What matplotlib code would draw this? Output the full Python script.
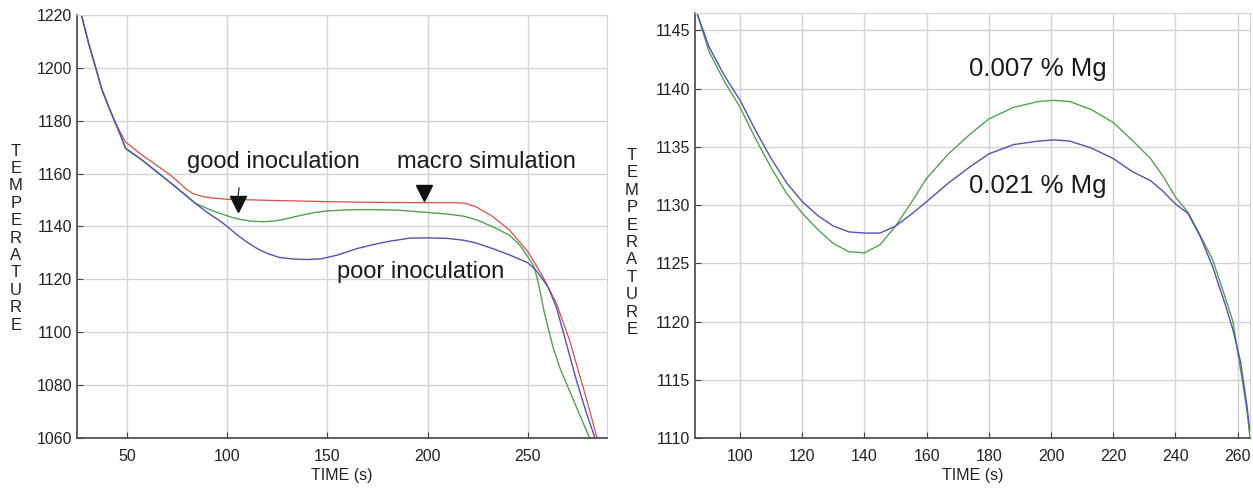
import matplotlib.pyplot as plt

plt.rcParams['font.family'] = ['Liberation Sans', 'DejaVu Sans']

# left panel: cooling curves, inoculation vs macro simulation
t_red = [25, 27.2, 30.8, 34.2, 37.5, 40.8, 44.2, 46.7, 49.2, 57.5, 65.8, 72, 76, 79.5, 83, 87, 92, 100, 126,
         150, 175, 200, 214, 219, 224, 232, 240.8, 250, 257.5, 264.2, 270.8, 277.5, 281, 284.5]
y_red = [1220, 1220, 1209.3, 1200.4, 1191.6, 1185.3, 1179.3, 1175.5, 1172, 1167, 1162.6, 1159.2, 1156.6,
         1154.1, 1152.4, 1151.5, 1150.8, 1150.3, 1149.8, 1149.4, 1149.1, 1149, 1149, 1148.7, 1147.5, 1144,
         1138.7, 1130.5, 1121, 1111, 1097, 1079.4, 1070, 1060]

t_green = [25, 27.2, 30.8, 34.2, 37.5, 40.8, 44.2, 46.7, 49.2, 57.5, 65.8, 74.2, 84, 90, 95, 99, 103, 107,
           112, 118, 124, 130, 136, 143, 150, 160, 170, 185, 200, 210, 218, 225, 235, 241, 246, 250, 253,
           255, 258.3, 262.5, 266, 269.2, 274.2, 280.8]
y_green = [1220, 1220, 1209.3, 1200.4, 1191.6, 1185.3, 1179, 1174.6, 1169.6, 1165.1, 1160.1, 1155, 1148.8,
           1146.8, 1145.3, 1144.3, 1143.3, 1142.6, 1142, 1141.8, 1142.1, 1143, 1144.1, 1145.2, 1145.9,
           1146.3, 1146.4, 1146.2, 1145.3, 1144.7, 1143.9, 1142.4, 1139, 1136.6, 1133, 1128.5, 1125,
           1119.5, 1107.2, 1094.5, 1086.5, 1080.7, 1071.8, 1060]

t_blue = [25, 27.2, 30.8, 34.2, 37.5, 40.8, 44.2, 46.7, 49.2, 57.5, 65.8, 74.2, 84, 90, 95, 99, 105, 110,
          115, 120, 126, 133, 140, 147, 155, 165, 172, 180, 191, 200, 210, 218, 224, 233, 241, 250, 254,
          257, 260, 264.2, 268.3, 274.2, 279, 283.5]
y_blue = [1220, 1220, 1209.3, 1200.4, 1191.6, 1185.3, 1179, 1174.6, 1169.6, 1165.1, 1160.1, 1155, 1148.8,
          1145.3, 1142.8, 1140.6, 1136.8, 1134, 1131.6, 1129.8, 1128.3, 1127.7, 1127.5, 1127.8, 1129.2,
          1131.7, 1133, 1134.3, 1135.6, 1135.7, 1135.5, 1134.8, 1133.8, 1131.5, 1129.2, 1126.3, 1123.5,
          1120.5, 1117.2, 1109.6, 1098.3, 1081.9, 1070, 1060]

# right panel: Mg content
t_mg = [86, 90, 95, 100, 105, 110, 115, 120, 125, 130, 135, 140, 145, 150, 155, 160, 167, 174, 180, 188,
        196, 201, 206, 213, 220, 226, 232, 236, 240, 244, 248, 252, 256, 258.5, 261, 263, 264]
y_mg007 = [1146.6, 1143.2, 1140.6, 1138.4, 1135.7, 1133.2, 1131, 1129.3, 1127.9, 1126.7, 1126, 1125.9,
           1126.6, 1128.2, 1130.2, 1132.3, 1134.4, 1136.1, 1137.4, 1138.4, 1138.9, 1139, 1138.9, 1138.2,
           1137.1, 1135.6, 1134, 1132.5, 1130.7, 1129.4, 1127.4, 1125.3, 1122.1, 1120, 1115.8, 1112.4, 1110]
y_mg021 = [1146.6, 1143.6, 1141.1, 1139, 1136.4, 1134, 1131.9, 1130.3, 1129.1, 1128.2, 1127.7, 1127.6,
           1127.6, 1128.2, 1129.2, 1130.3, 1131.9, 1133.3, 1134.4, 1135.2, 1135.5, 1135.6, 1135.5, 1134.9,
           1134.0, 1132.9, 1132.1, 1131.2, 1130.1, 1129.3, 1127.3, 1124.7, 1121.5, 1119.3, 1116.5, 1112.8,
           1110.5]

left_xticks = [50, 100, 150, 200, 250]
left_yticks = [1060, 1080, 1100, 1120, 1140, 1160, 1180, 1200, 1220]
right_xticks = [100, 120, 140, 160, 180, 200, 220, 240, 260]
right_yticks = [1110, 1115, 1120, 1125, 1130, 1135, 1140, 1145]

left_labels = ['good inoculation', 'macro simulation', 'poor inoculation']
left_label_pos = [(80, 1164.5), (184.8, 1164.5), (155, 1122.9)]
arrow_heads = [(105.2, 1148.6), (198, 1152.5)]
right_labels = ['0.007 % Mg', '0.021 % Mg']
right_label_pos = [(173.7, 1141.7), (173.7, 1131.6)]

RED = '#d2504a'
GREEN = '#54a054'
BLUE = '#5252b0'
GRID = '#d4d4d4'

fig = plt.figure(figsize=(12.53, 4.88), dpi=100)
ax1 = fig.add_axes([77 / 1253, 1 - 438 / 488, 530 / 1253, 423 / 488])
ax2 = fig.add_axes([695 / 1253, 1 - 438 / 488, 555 / 1253, 425 / 488])


def style(ax):
    ax.grid(True, color=GRID, linewidth=1)
    ax.set_axisbelow(True)
    for s in ['top', 'right']:
        ax.spines[s].set_color(GRID)
    for s in ['left', 'bottom']:
        ax.spines[s].set_color('#444444')
        ax.spines[s].set_linewidth(1.2)
    ax.tick_params(direction='in', length=4, labelsize=11.5, colors='#444444', labelcolor='#222222')
    ax.tick_params(axis='x', pad=8)
    ax.set_xlabel('TIME (s)', fontsize=11.5, color='#222222', labelpad=3)


ax1.plot(t_red, y_red, color=RED, lw=0.9)
ax1.plot(t_green, y_green, color=GREEN, lw=1.0)
ax1.plot(t_blue, y_blue, color=BLUE, lw=1.0)
ax1.set_xlim(25, 289.5)
ax1.set_ylim(1060, 1220)
ax1.set_xticks(left_xticks)
ax1.set_yticks(left_yticks)
style(ax1)

for lab, (x, y) in zip(left_labels, left_label_pos):
    ax1.text(x, y, lab, fontsize=17, ha='left', va='center', color='#1a1a1a')
for x, y in arrow_heads:
    ax1.plot(x, y, marker='v', markersize=11, color='#111111', linestyle='none')
# thin stem above the "good inoculation" arrow
ax1.plot([arrow_heads[0][0] + 0.7, arrow_heads[0][0]], [1154.6, 1150.5], color='#111111', lw=0.8)

ax2.plot(t_mg, y_mg007, color=GREEN, lw=1.0)
ax2.plot(t_mg, y_mg021, color=BLUE, lw=1.0)
ax2.set_xlim(85.5, 264)
ax2.set_ylim(1110, 1146.5)
ax2.set_xticks(right_xticks)
ax2.set_yticks(right_yticks)
style(ax2)

for lab, (x, y) in zip(right_labels, right_label_pos):
    ax2.text(x, y, lab, fontsize=18.5, ha='left', va='center', color='#1a1a1a')

# stacked vertical axis titles
fig.text(16 / 1253, 0.512, '\n'.join('TEMPERATURE'), fontsize=12, ha='center', va='center',
         linespacing=1.2, color='#222222')
fig.text(632 / 1253, 0.503, '\n'.join('TEMPERATURE'), fontsize=12, ha='center', va='center',
         linespacing=1.2, color='#222222')

fig.savefig('out.png', dpi=100)
